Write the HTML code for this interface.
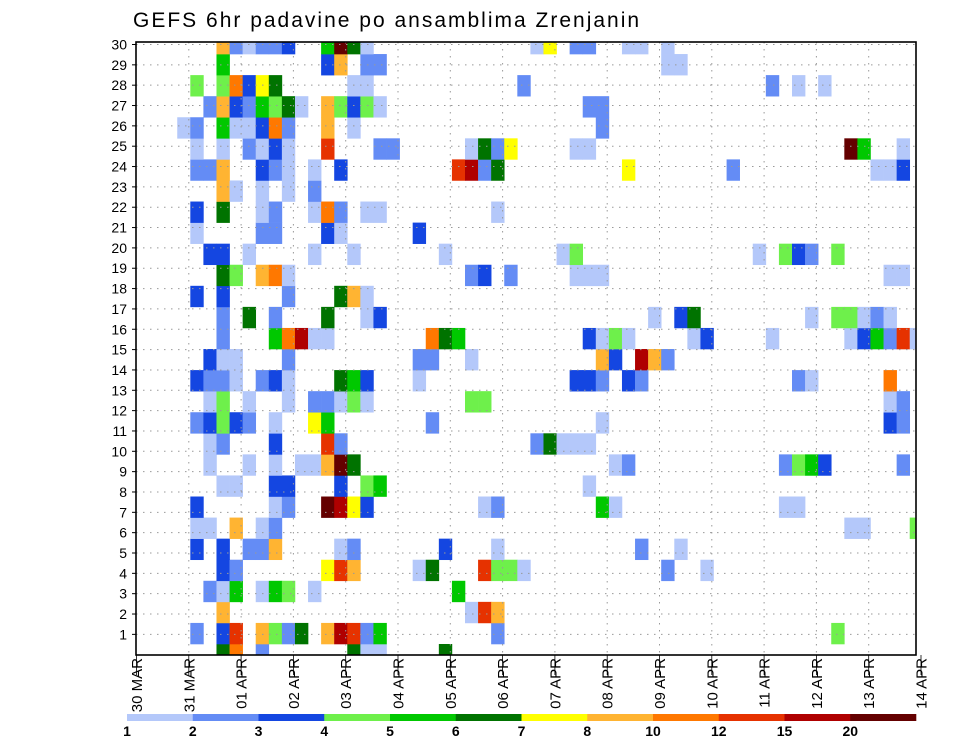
<!DOCTYPE html>
<html><head><meta charset="utf-8"><style>
html,body{margin:0;padding:0;background:#fff}
svg{display:block;font-family:"Liberation Sans","DejaVu Sans",sans-serif}
</style></head><body>
<svg id="chart" width="960" height="742" viewBox="0 0 960 742">
<text x="133" y="27" font-size="21" letter-spacing="2" fill="#000">GEFS 6hr padavine po ansamblima Zrenjanin</text>
<g id="cells"></g>
<g id="grid"></g>
<rect x="136" y="42" width="780" height="613" fill="none" stroke="#000" stroke-width="1.6"/>
<g id="yaxis"></g>
<g id="xaxis"></g>
<g id="legend"></g>
</svg>
<script>
// levels (mm) and their colours
const levelLabels = ["1","2","3","4","5","6","7","8","10","12","15","20"];
const levelColors = ["#b4c8fa","#648cf5","#1446e1","#6ef04b","#00c800","#007300","#ffff00","#ffb432","#ff7800","#e63200","#af0000","#640000"];
const levelCodes = "abcdefghijkl";
// day tick labels
const dayLabels = ["30 MAR","31 MAR","01 APR","02 APR","03 APR","04 APR","05 APR","06 APR","07 APR","08 APR","09 APR","10 APR","11 APR","12 APR","13 APR","14 APR"];
const yTicks = [1,2,3,4,5,6,7,8,9,10,11,12,13,14,15,16,17,18,19,20,21,22,23,24,25,26,27,28,29,30];
// ensemble rows (index 0 = bottom): "step+level" entries, step = 6h period index
const memberRows = [
"6f 7i 9b 16f 17a 18a 23f",
"4b 6c 7j 9h 10d 11b 12f 14h 15k 16j 17b 18e 27b 53d",
"6h 25a 26j 27h",
"5b 6a 7e 9a 10e 11d 13a 24e",
"6c 7b 14g 15j 16h 21a 22f 26j 27d 28d 29a 40b 43a",
"4c 6c 8b 9b 10h 15a 16b 23c 27a 38b 41a",
"4a 5a 7h 9a 10b 54a 55a 59d",
"4c 10a 11b 14l 15k 16g 17c 26a 27b 35e 36a 49a 50a",
"6a 7a 10c 11c 15c 17d 18e 34a",
"5a 8a 10a 12a 13a 14h 15l 16f 36a 37b 49b 50d 51e 52c 58b",
"5a 6b 10c 14j 15b 30b 31f 32a 33a 34a",
"4b 5c 6d 7c 8b 10a 13g 14e 22b 35a 57c 58b",
"5a 6d 8a 11a 13b 14b 15a 16d 17a 25d 26d 57a 58b",
"4c 5b 6b 7a 9b 10c 11a 15f 16e 17c 21a 33c 34c 35b 37c 38b 50b 51a 57i",
"5c 6a 7a 11b 21b 22b 25a 35h 36c 38k 39h 40b",
"6b 10e 11i 12k 13a 14a 22i 23f 24e 34c 35a 36d 37a 42a 43c 48a 54a 55c 56e 57b 58j 59a",
"6b 8f 10b 14f 17a 18c 39a 41c 42f 51a 53d 54d 55a 56b 57a",
"4c 6c 11b 15f 16h 17a",
"6f 7d 9h 10i 11a 25b 26c 28b 33a 34a 35a 57a 58a",
"5c 6c 8a 13a 16a 23a 32a 33d 47a 49d 50c 51b 53d",
"4a 9b 10b 14c 15a 21c",
"4c 6f 9a 10b 13a 14i 15b 17a 18a 27a",
"6h 7a 9a 11a 13b",
"4b 5b 6h 9c 10b 11a 13a 15c 24j 25k 26b 27f 37g 45b 56a 57a 58c",
"4a 6a 8b 9a 10c 11a 14j 18b 19b 25a 26f 27b 28g 33a 34a 54l 55e 58a",
"3a 4b 6e 7a 8a 9c 10i 11b 14h 16a 35b",
"5b 6h 7c 8b 9e 10d 11f 12a 14h 15d 16c 17d 18a 34b 35b",
"4d 6d 7i 8c 9g 10f 16a 17a 29b 48b 50a 52a",
"6e 14c 15h 17b 18b 40a 41a",
"6h 7b 8a 9b 10b 11c 14e 15l 16f 17a 30a 31g 33b 34b 37a 38a 40a"
];
const NS="http://www.w3.org/2000/svg";
const L=136,R=916,T=42,B=655;
const colX0=138, colW=13.08, rowH=21.07, rowBase=644;
function xStep(s){return colX0+s*colW;}
function yRowTop(v){return rowBase-rowH*v;}
function yTick(r){return 654.7-20.34*r;}
function xDay(d){return 136.5+52.3*d;}
function mk(tag,attrs,parent){const e=document.createElementNS(NS,tag);for(const k in attrs)e.setAttribute(k,attrs[k]);parent.appendChild(e);return e;}
const cells=document.getElementById('cells');
memberRows.forEach((row,v)=>{
  row.split(' ').forEach(tok=>{
    const s=parseInt(tok,10), lv=levelCodes.indexOf(tok.slice(-1));
    let x=xStep(s), w=colW, y=yRowTop(v), h=rowH;
    if(x<L){w-=L-x;x=L;} if(x+w>R)w=R-x;
    if(y<T){h-=T-y;y=T;} if(y+h>B)h=B-y;
    const r=mk('rect',{x:x,y:y,width:w+0.3,height:h+0.3,fill:levelColors[lv]},cells);
    
    
  });
});
const grid=document.getElementById('grid');
yTicks.forEach(r=>{
  const y=yTick(r);
  const l=mk('line',{x1:L,x2:R,y1:y,y2:y,stroke:'#999','stroke-width':1,'stroke-dasharray':'1.5 5.5'},grid);
  
  
});
dayLabels.forEach((d,i)=>{
  if(i===0||i===dayLabels.length-1)return;
  const x=xDay(i);
  const l=mk('line',{x1:x,x2:x,y1:T,y2:B,stroke:'#999','stroke-width':1,'stroke-dasharray':'1.5 5.5'},grid);
  
  
});
const ya=document.getElementById('yaxis');
yTicks.forEach(r=>{
  const y=yTick(r);
  const t=mk('line',{x1:L-4,x2:L,y1:y,y2:y,stroke:'#000','stroke-width':1},ya);
  
  
  const tx=mk('text',{x:127,y:y+5,'font-size':14,'text-anchor':'end',fill:'#000'},ya);
  tx.textContent=r;
  
  
});
const xa=document.getElementById('xaxis');
dayLabels.forEach((d,i)=>{
  const x=xDay(i);
  const t=mk('line',{x1:x,x2:x,y1:B,y2:B+20,stroke:'#000','stroke-width':0.8},xa);
  
  
  const tx=mk('text',{x:0,y:0,'font-size':15,'text-anchor':'end',fill:'#000',transform:`translate(${x+5.5},658) rotate(-90)`},xa);
  tx.textContent=d;
  
  
});
const lg=document.getElementById('legend');
const lx0=127, lw=(916-127)/levelColors.length;
levelColors.forEach((c,i)=>{
  const r=mk('rect',{x:lx0+i*lw,y:714,width:lw+0.3,height:7,fill:c},lg);
  
  
  const t=mk('text',{x:lx0+i*lw,y:736,'font-size':14,'font-weight':'bold','text-anchor':'middle',fill:'#000'},lg);
  t.textContent=levelLabels[i];
  
  
});
</script>
</body></html>
